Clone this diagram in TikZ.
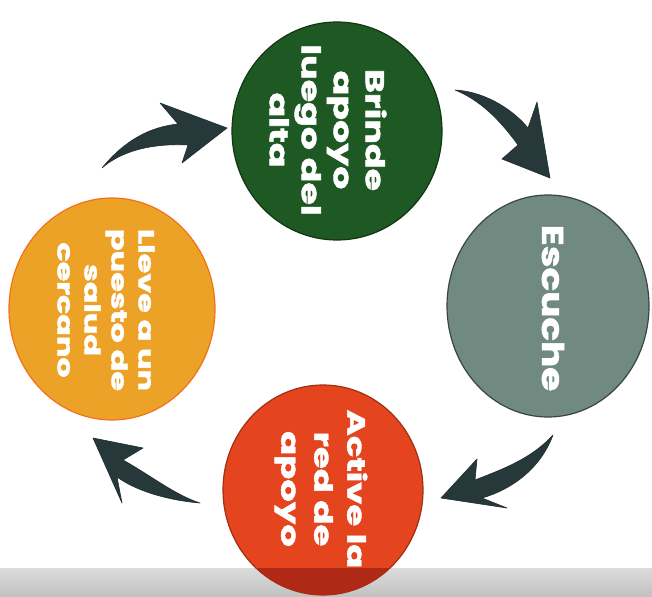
\documentclass[tikz,border=0pt]{standalone}
\usepackage{fontspec}
\newfontfamily\pf[BoldFeatures={FakeBold=1.6}]{Poppins}
\usetikzlibrary{shapes.geometric}
\definecolor{cgreen}{RGB}{30,88,34}
\definecolor{cgrey}{RGB}{112,138,130}
\definecolor{corange}{RGB}{236,162,38}
\definecolor{cred}{RGB}{228,68,30}
\definecolor{cdred}{RGB}{176,40,22}
\definecolor{carrow}{RGB}{38,56,58}
\begin{document}
\begin{tikzpicture}[x=1pt,y=-1pt,
  disc/.style={ellipse, inner sep=0pt, line width=1.2pt},
  lbl/.style={text=white, align=center, rotate=-90, transform shape, inner sep=0pt},
  fat/.style={fill=carrow, draw=carrow!80!black, line width=0.6pt, line join=round}]
\fill[white] (0,0) rectangle (652,596);
\useasboundingbox (0,0) rectangle (652,596);
\shade[top color=gray!28, bottom color=gray!48] (0,568) rectangle (652,596);
% discs
\node[disc, fill=cgreen, draw=cgreen!60!black, minimum width=210pt, minimum height=218pt] (g) at (337,131) {};
\node[disc, fill=cgrey, draw=cgrey!50!black, minimum width=202pt, minimum height=222pt] (s) at (548,306) {};
\node[disc, fill=corange, draw=corange!70!red, minimum width=206pt, minimum height=222pt] (o) at (112,309) {};
\node[disc, fill=cred, draw=cred!70!black, minimum width=200pt, minimum height=210pt] (r) at (323,490) {};
\begin{scope}
  \clip (0,568) rectangle (652,596);
  \fill[cdred] (r.center) ellipse [x radius=100, y radius=105];
\end{scope}
% labels
\node[lbl, xscale=1.4, font=\pf\bfseries\fontsize{26}{32}\selectfont] (gt) at (328,130) {Brinde\\apoyo\\luego del\\alta};
\node[lbl, xscale=1.3, font=\pf\bfseries\fontsize{30}{36}\selectfont] (st) at (553,308) {Escuche};
\node[lbl, xscale=1.45, font=\pf\bfseries\fontsize{22}{27}\selectfont] (ot) at (106,310) {Lleve a un\\puesto de\\salud\\cercano};
\node[lbl, xscale=1.42, font=\pf\bfseries\fontsize{25}{33}\selectfont] (rt) at (321,489) {Active la\\red de\\apoyo};
% arrows
\fill[fat] (102,168) .. controls (125,140) and (150,127) .. (178,124) -- (160,103) -- (227,128) -- (182,163) -- (188,145) .. controls (150,143) and (120,152) .. cycle;
\fill[fat] (455,90) .. controls (488,92) and (515,112) .. (528,128) -- (537,102) -- (550,178) -- (502,159) -- (518,145) .. controls (500,120) and (480,100) .. cycle;
\fill[fat] (553,435) .. controls (530,460) and (500,470) .. (475,480) -- (477,459) -- (441,498) -- (507,508) -- (482,498) .. controls (510,490) and (540,470) .. cycle;
\fill[fat] (200,503) .. controls (165,500) and (135,490) .. (117,477) -- (122,503) -- (93,438) -- (143,448) -- (123,460) .. controls (150,475) and (175,495) .. cycle;
\end{tikzpicture}
\end{document}
